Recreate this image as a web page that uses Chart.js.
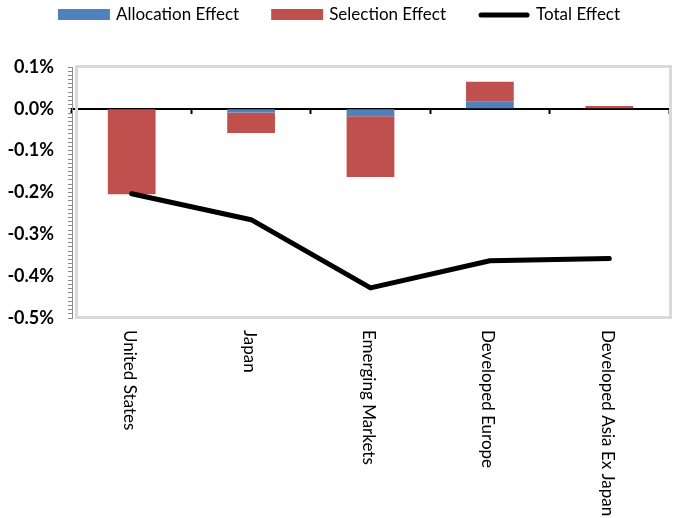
<!DOCTYPE html>
<html>
<head>
<meta charset="utf-8">
<script src="https://cdn.jsdelivr.net/npm/chart.js@4/dist/chart.umd.min.js"></script>
<style>
  html, body { margin: 0; padding: 0; background: #ffffff; }
  #wrap { width: 678px; height: 518px; position: relative; }
</style>
</head>
<body>
<div id="wrap"><canvas id="chart" width="678" height="518"></canvas></div>
<script>
// Regional attribution effects, in percent
const categories = ['United States', 'Japan', 'Emerging Markets', 'Developed Europe', 'Developed Asia Ex Japan'];
const allocationEffect = [0.000, -0.009, -0.018, 0.018, 0.000];
const selectionEffect = [-0.204, -0.049, -0.145, 0.047, 0.007];
const totalEffect = [-0.203, -0.265, -0.428, -0.363, -0.358];

const yMin = -0.5;
const yMax = 0.1;
const minorStep = 0.01;

const FONT = 'Lato, "Open Sans", "Noto Sans", sans-serif';
const BLUE = '#4f81bd';
const RED = '#c0504d';

// Light grey frame around the plotting area
const framePlugin = {
  id: 'plotFrame',
  beforeDatasetsDraw(chart) {
    const { ctx, chartArea: a } = chart;
    ctx.save();
    ctx.strokeStyle = '#d9d9d9';
    ctx.lineWidth = 3;
    ctx.strokeRect(a.left + 4.5, a.top - 0.5, a.right - a.left - 3, a.bottom - a.top);
    ctx.restore();
  }
};

// Category names written top-to-bottom under the plot
const categoryLabelPlugin = {
  id: 'categoryLabels',
  afterDraw(chart) {
    const { ctx, chartArea: a } = chart;
    const xs = chart.scales.x;
    ctx.save();
    ctx.fillStyle = '#000000';
    ctx.font = '17px ' + FONT;
    ctx.textAlign = 'left';
    ctx.textBaseline = 'middle';
    categories.forEach((name, i) => {
      const x = xs.getPixelForValue(i);
      ctx.save();
      ctx.translate(x - 2, a.bottom + 12);
      ctx.rotate(Math.PI / 2);
      ctx.fillText(name, 0, 0);
      ctx.restore();
    });
    ctx.restore();
  }
};

// Legend row across the top
const legendPlugin = {
  id: 'topLegend',
  afterDraw(chart) {
    const { ctx } = chart;
    const sets = chart.data.datasets;
    const boxW = 52, gap = 6, spacing = 32, cy = 15;
    ctx.save();
    ctx.font = '17px ' + FONT;
    const widths = sets.map(d => ctx.measureText(d.label).width);
    const total = widths.reduce((s, w) => s + w + boxW + gap, 0) + spacing * (sets.length - 1);
    let x = chart.width / 2 - total / 2;
    sets.forEach((d, i) => {
      if (d.type === 'line') {
        ctx.strokeStyle = d.borderColor;
        ctx.lineWidth = 5;
        ctx.lineCap = 'round';
        ctx.beginPath();
        ctx.moveTo(x + 3, cy);
        ctx.lineTo(x + boxW - 3, cy);
        ctx.stroke();
      } else {
        ctx.fillStyle = d.backgroundColor;
        ctx.fillRect(x, cy - 6, boxW, 11);
      }
      ctx.fillStyle = '#000000';
      ctx.textAlign = 'left';
      ctx.textBaseline = 'middle';
      ctx.fillText(d.label, x + boxW + gap, cy);
      x += boxW + gap + widths[i] + spacing;
    });
    ctx.restore();
  }
};

new Chart(document.getElementById('chart'), {
  type: 'bar',
  data: {
    labels: categories,
    datasets: [
      {
        label: 'Allocation Effect',
        data: allocationEffect,
        backgroundColor: BLUE,
        stack: 'effects',
        categoryPercentage: 1.0,
        barPercentage: 0.4
      },
      {
        label: 'Selection Effect',
        data: selectionEffect,
        backgroundColor: RED,
        stack: 'effects',
        categoryPercentage: 1.0,
        barPercentage: 0.4
      },
      {
        type: 'line',
        label: 'Total Effect',
        data: totalEffect,
        borderColor: '#000000',
        backgroundColor: '#000000',
        borderWidth: 5,
        borderCapStyle: 'round',
        borderJoinStyle: 'round',
        pointRadius: 0,
        pointHoverRadius: 0,
        tension: 0,
        fill: false,
        stack: 'total',
        order: -1
      }
    ]
  },
  options: {
    responsive: false,
    animation: false,
    events: [],
    layout: { padding: { top: 67, right: 9, bottom: 200, left: 0 } },
    plugins: {
      legend: { display: false },
      tooltip: { enabled: false },
      title: { display: false }
    },
    scales: {
      x: {
        position: { y: 0 },
        offset: true,
        grid: {
          display: true,
          offset: true,
          drawOnChartArea: false,
          drawTicks: true,
          tickLength: 4,
          tickWidth: 2,
          color: '#000000'
        },
        border: { display: true, color: '#000000', width: 2 },
        ticks: { display: false }
      },
      y: {
        stacked: true,
        min: yMin,
        max: yMax,
        afterFit(scale) { scale.width = 72; },
        grid: {
          display: true,
          drawOnChartArea: false,
          drawTicks: true,
          tickLength: 4,
          color: '#8c8c8c'
        },
        border: { display: true, color: '#8c8c8c', width: 1 },
        ticks: {
          stepSize: minorStep,
          autoSkip: false,
          padding: 14,
          color: '#000000',
          font: { family: FONT, size: 18, weight: 'bold' },
          callback(v) {
            const tenths = Math.round(v * 10);
            if (Math.abs(v * 10 - tenths) > 1e-6) return '';
            return (tenths / 10).toFixed(1) + '%';
          }
        }
      }
    }
  },
  plugins: [framePlugin, categoryLabelPlugin, legendPlugin]
});
</script>
</body>
</html>
